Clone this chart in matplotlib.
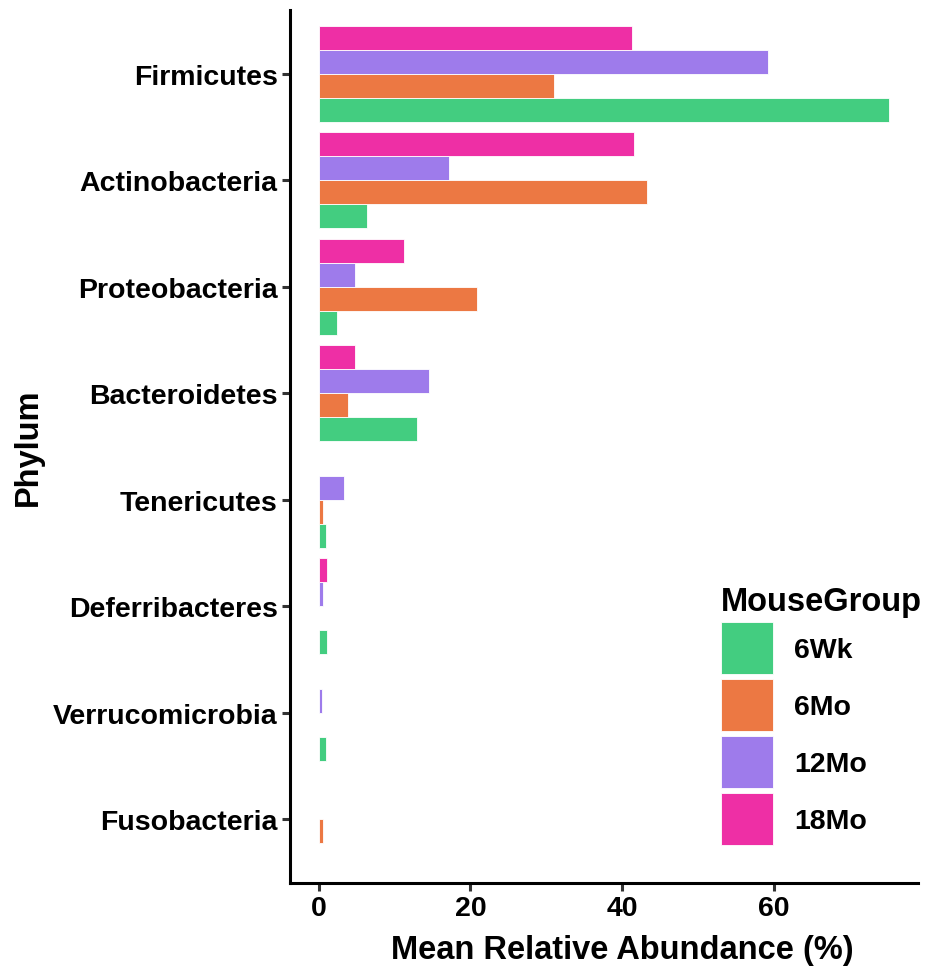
import matplotlib
matplotlib.use("Agg")
import matplotlib.pyplot as plt
from matplotlib.patches import Patch
import numpy as np

plt.rcParams['font.family'] = ['Liberation Sans', 'DejaVu Sans']
plt.rcParams['font.weight'] = 'bold'

phyla = ["Firmicutes", "Actinobacteria", "Proteobacteria", "Bacteroidetes",
         "Tenericutes", "Deferribacteres", "Verrucomicrobia", "Fusobacteria"]
groups = ["6Wk", "6Mo", "12Mo", "18Mo"]
colors = ["#43CD80", "#EC7843", "#9E7BEB", "#EE2FA5"]

# mean relative abundance (%) per phylum, one list per mouse group
abund_6wk = [75.2, 6.4, 2.4, 13.0, 1.0, 1.15, 1.0, 0.02]
abund_6mo = [31.0, 43.2, 20.9, 3.9, 0.55, 0.05, 0.05, 0.65]
abund_12mo = [59.2, 17.2, 4.8, 14.6, 3.3, 0.6, 0.5, 0.02]
abund_18mo = [41.3, 41.6, 11.3, 4.8, 0.1, 1.1, 0.05, 0.1]
series = [abund_6wk, abund_6mo, abund_12mo, abund_18mo]

W, H = 930, 970
fig = plt.figure(figsize=(W / 100, H / 100), dpi=100)
ax = fig.add_axes([290 / W, 1 - 884 / H, 628 / W, 873 / H])

n = len(phyla)
pos = np.arange(n)[::-1]  # first phylum on top
bar_h = 0.9 / len(groups)
for g, (vals, col) in enumerate(zip(series, colors)):
    offs = (g - (len(groups) - 1) / 2) * bar_h
    ax.barh(pos + offs, vals, height=bar_h, color=col,
            edgecolor="white", linewidth=0.6, label=groups[g])

xmax = max(max(s) for s in series)
ax.set_xlim(-0.05 * xmax, 1.05 * xmax)
ax.set_ylim(-0.6, n - 1 + 0.6)
ax.set_yticks(pos)
ax.set_yticklabels(phyla)
ax.set_xticks([0, 20, 40, 60])

for side in ["top", "right"]:
    ax.spines[side].set_visible(False)
for side in ["left", "bottom"]:
    ax.spines[side].set_linewidth(2.2)
    ax.spines[side].set_color("black")
ax.tick_params(axis="both", length=6, width=2.2, color="#333333",
               labelsize=20.5, labelcolor="black", pad=3)
for lab in ax.get_xticklabels() + ax.get_yticklabels():
    lab.set_fontweight("bold")

ax.set_xlabel("Mean Relative Abundance (%)", fontsize=23.5, fontweight="bold")
ax.xaxis.set_label_coords((622 - 290) / 628, -0.058)
ax.set_ylabel("Phylum", fontsize=23.5, fontweight="bold")
ax.yaxis.set_label_coords(-(290 - 44) / 628, 0.5)

handles = [Patch(facecolor=c, edgecolor="white", linewidth=0.6) for c in colors]
leg = ax.legend(handles, groups, title="MouseGroup", loc="upper left",
                bbox_to_anchor=(721 / W, 1 - 587 / H), bbox_transform=fig.transFigure,
                frameon=False, fontsize=20.5, title_fontsize=23.5,
                handlelength=1.83, handleheight=2.44, labelspacing=0.17,
                handletextpad=0.74, borderpad=0, borderaxespad=0, alignment="left")
leg.get_title().set_fontweight("bold")
for t in leg.get_texts():
    t.set_fontweight("bold")

fig.savefig("out.png", dpi=100)
